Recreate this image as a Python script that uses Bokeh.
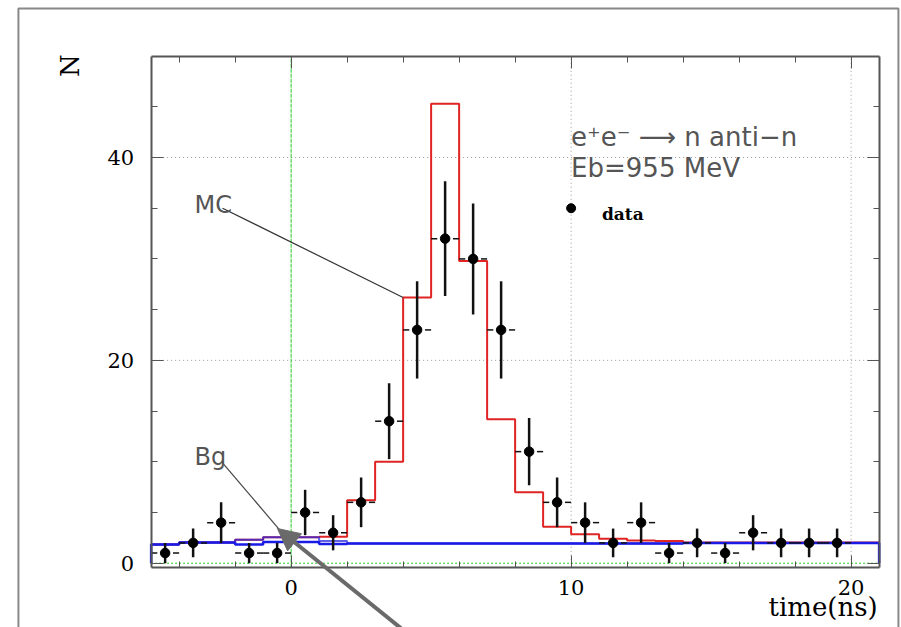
import numpy as np
from bokeh.plotting import figure
from bokeh.models import (Range1d, FixedTicker, LinearAxis, Label, Arrow,
                          NormalHead, BoxAnnotation, CustomLabelingPolicy)
from bokeh.embed import file_html
from bokeh.resources import INLINE

# 1 ns bins from -5 to 21 ns
bin_edges = list(range(-5, 22))

# measured events per bin (bin centres)
data_t = [-4.5, -3.5, -2.5, -1.5, -0.5, 0.5, 1.5, 2.5, 3.5, 4.5, 5.5, 6.5, 7.5,
          8.5, 9.5, 10.5, 11.5, 12.5, 13.5, 14.5, 15.5, 16.5, 17.5, 18.5, 19.5]
data_n = [1, 2, 4, 1, 1, 5, 3, 6, 14, 23, 32, 30, 23,
          11, 6, 4, 2, 4, 1, 2, 1, 3, 2, 2, 2]

# simulated signal + background, one value per bin
mc = [1.85, 2.05, 2.05, 2.3, 2.55, 2.55, 2.6, 6.2, 10.0, 26.2, 45.3, 29.8, 14.2,
      7.0, 3.6, 2.85, 2.4, 2.25, 2.2, 2.05, 2.05, 2.05, 2.05, 2.05, 2.05, 2.05]
# background estimates
bg = [1.85, 2.05, 2.05, 1.85, 2.1, 2.1, 1.9, 1.95, 1.95, 1.95, 1.95, 1.95, 1.95,
      1.95, 1.95, 1.95, 1.95, 1.95, 1.95, 2.0, 2.0, 2.0, 2.0, 2.0, 2.0, 2.0]
bg_alt = [1.85, 2.05, 2.05, 2.3, 2.55, 2.55, 2.2, 1.95, 1.95, 1.95, 1.95, 1.95, 1.95,
          1.95, 1.95, 1.95, 1.95, 1.95, 1.95, 2.0, 2.0, 2.0, 2.0, 2.0, 2.0, 2.0]

x_major = [0, 10, 20]
x_minor = list(range(-4, 21, 2))
y_major = [0, 20, 40]
y_minor = [5, 10, 15, 25, 30, 35, 45]
x_grid = [10, 20]
y_grid = [20, 40]

# histogram frame (data coordinates) inside a page-sized canvas
T_MIN, T_MAX = -5.0, 21.0
N_MIN, N_MAX = -0.45, 50.0

FRAME = "#555555"
TXT_GRAY = "#555555"
GREEN = "#22cc22"

p = figure(width=901, height=627, output_backend="svg", toolbar_location=None,
           x_range=Range1d(-10.38, 21.80), y_range=Range1d(-6.34, 55.48),
           x_axis_location=None, y_axis_location=None,
           min_border=0, background_fill_color="white",
           border_fill_color="white")
p.outline_line_color = None
p.xgrid.visible = False
p.ygrid.visible = False

# frame axes pinned to the histogram box, ticks pointing inward
no_labels = CustomLabelingPolicy(code="return []")
axes = {
    "below": LinearAxis(fixed_location=N_MIN, bounds=(T_MIN, T_MAX)),
    "above": LinearAxis(fixed_location=N_MAX, bounds=(T_MIN, T_MAX),
                        major_label_policy=no_labels),
    "left": LinearAxis(fixed_location=T_MIN, bounds=(N_MIN, N_MAX)),
    "right": LinearAxis(fixed_location=T_MAX, bounds=(N_MIN, N_MAX),
                        major_label_policy=no_labels),
}
for side, ax in axes.items():
    if side in ("below", "above"):
        ax.ticker = FixedTicker(ticks=x_major, minor_ticks=x_minor)
    else:
        ax.ticker = FixedTicker(ticks=y_major, minor_ticks=y_minor)
    ax.axis_line_color = FRAME
    ax.axis_line_width = 2
    ax.major_tick_in = 12
    ax.major_tick_out = 0
    ax.minor_tick_in = 6
    ax.minor_tick_out = 0
    ax.major_tick_line_color = FRAME
    ax.minor_tick_line_color = FRAME
    ax.major_label_text_font = "DejaVu Serif"
    ax.major_label_text_font_size = "21px"
    ax.major_label_text_color = "black"
    p.add_layout(ax, side)
axes["left"].major_label_standoff = 17
axes["below"].major_label_standoff = 12

# dotted grid inside the box
p.segment(x0=x_grid, y0=N_MIN, x1=x_grid, y1=N_MAX, line_color="#999999",
          line_dash="1 3", line_width=1)
p.segment(x0=T_MIN, y0=y_grid, x1=T_MAX, y1=y_grid, line_color="#999999",
          line_dash="1 3", line_width=1)
# green reference lines at t = 0 and N = 0
p.segment(x0=[0], y0=N_MIN, x1=[0], y1=N_MAX, line_color=GREEN,
          line_dash="4 1", line_width=1)
p.segment(x0=T_MIN, y0=[0], x1=T_MAX, y1=[0], line_color=GREEN,
          line_dash="2 2", line_width=1)

# MC histogram (red)
p.step(x=bin_edges, y=mc + [mc[-1]], mode="after", line_color="#e02424",
       line_width=2)
# background histograms (blue), closed down to zero at both ends
bx = [bin_edges[0]] + bin_edges + [bin_edges[-1]]
p.step(x=bx, y=[0] + bg_alt + [bg_alt[-1], 0], mode="after",
       line_color="#2a2ae0", line_width=2, line_alpha=0.75)
p.step(x=bx, y=[0] + bg + [bg[-1], 0], mode="after",
       line_color="#1a1ae6", line_width=2.5)

# data points with sqrt(N) errors
t = np.array(data_t, dtype=float)
n = np.array(data_n, dtype=float)
err = np.sqrt(n)
p.segment(x0=t, y0=n - err, x1=t, y1=n + err, line_color="#111111", line_width=2.5)
p.segment(x0=t - 0.5, y0=n, x1=t - 0.28, y1=n, line_color="#111111", line_width=1.5)
p.segment(x0=t + 0.28, y0=n, x1=t + 0.5, y1=n, line_color="#111111", line_width=1.5)
p.scatter(x=t, y=n, size=9.5, color="black")

# legend entry
p.scatter(x=[10.0], y=[35.0], size=9, color="black")
p.add_layout(Label(x=11.1, y=34.45, text="data", text_font="DejaVu Serif",
                   text_font_style="bold", text_font_size="17px",
                   text_baseline="alphabetic", text_color="black"))

# process annotation
p.add_layout(Label(x=10.0, y=42.0, text="e⁺e⁻ ⟶  n anti−n", text_font="DejaVu Sans",
                   text_font_size="26px", text_color=TXT_GRAY,
                   text_baseline="alphabetic"))
p.add_layout(Label(x=10.0, y=39.0, text="Eb=955 MeV", text_font="DejaVu Sans",
                   text_font_size="26px", text_color=TXT_GRAY,
                   text_baseline="alphabetic"))

# MC and Bg labels with leader lines
p.add_layout(Label(x=-3.45, y=35.3, text="MC", text_font="DejaVu Sans",
                   text_font_size="24px", text_color=TXT_GRAY,
                   text_baseline="alphabetic"))
p.line(x=[-2.45, bin_edges[9]], y=[35.0, mc[9]], line_color="#333333", line_width=1.2)
p.add_layout(Label(x=-3.45, y=10.46, text="Bg", text_font="DejaVu Sans",
                   text_font_size="24px", text_color=TXT_GRAY,
                   text_baseline="alphabetic"))
p.line(x=[-2.45, -0.2], y=[9.9, 2.6], line_color="#444444", line_width=1.2)

# long pointer arrow reaching in from below the box
p.add_layout(Arrow(end=NormalHead(size=22, fill_color="#6a6a6a", line_color="#6a6a6a"),
                   x_start=4.29, y_start=-7.23, x_end=-0.49, y_end=3.42,
                   line_color="#6a6a6a", line_width=4))

# axis titles
p.add_layout(Label(x=-7.88, y=49.07, text="N", text_font="DejaVu Serif",
                   text_font_size="26px", angle=np.pi / 2, text_align="center",
                   text_baseline="middle", text_color="black"))
p.add_layout(Label(x=20.95, y=-4.27, text="time(ns)", text_font="DejaVu Serif",
                   text_font_size="26px", text_align="right",
                   text_baseline="alphabetic", text_color="black"))

# outer page frame
p.add_layout(BoxAnnotation(left=-9.74, right=21.69, top=54.69, bottom=-20,
                           fill_alpha=0, line_color="#888888", line_alpha=1,
                           line_width=2))

open("out.html", "w").write(file_html(p, INLINE))
